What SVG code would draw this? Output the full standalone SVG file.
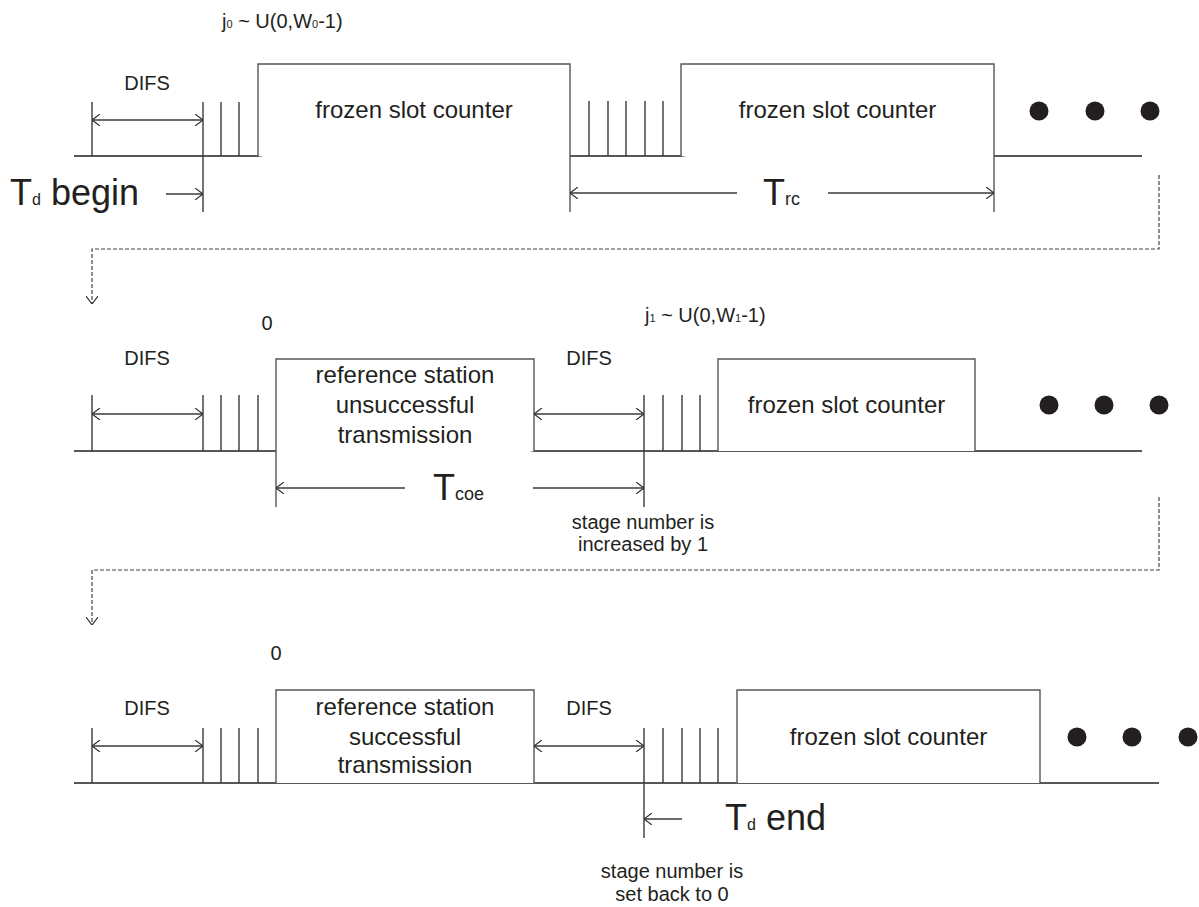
<svg xmlns="http://www.w3.org/2000/svg" width="1199" height="907" viewBox="0 0 1199 907">
<style>
text{font-family:"Liberation Sans",Arial,sans-serif;fill:#231f20}
.ln{stroke:#3a3a3a;stroke-width:1.4;fill:none}
.bl{stroke:#231f20;stroke-width:1.6;fill:none}
.box{stroke:#555;stroke-width:1.4;fill:#fff}
.dash{stroke:#444;stroke-width:1.2;fill:none;stroke-dasharray:4 2}
.s18{font-size:18px}
.s20{font-size:20px}
.s24{font-size:24px}
.s36{font-size:36px}
.sub{font-size:11px}
.dot{fill:#231f20}
</style>
<defs>
<marker id="ah" viewBox="0 0 8 12" refX="8" refY="6" markerWidth="8" markerHeight="12" markerUnits="userSpaceOnUse" orient="auto-start-reverse">
<path d="M0,0 L8,6 L0,12" fill="none" stroke="#333" stroke-width="1.2"/>
</marker>
</defs>

<g id="row1">
<line class="bl" x1="74" y1="156" x2="1142" y2="156"/>
<g id="r1-difs">
<line class="ln" x1="92" y1="102" x2="92" y2="156"/>
<line class="ln" x1="203" y1="102" x2="203" y2="212"/>
<text class="s20" x="147" y="90" text-anchor="middle">DIFS</text>
</g>
<g id="r1-slots1">
<line class="ln" x1="221" y1="102" x2="221" y2="156"/>
<line class="ln" x1="239" y1="102" x2="239" y2="156"/>
</g>
<g id="r1-box1">
<polyline class="box" points="258,156 258,64 570,64 570,212"/>
<text class="s24" x="414" y="118" text-anchor="middle">frozen slot counter</text>
</g>
<g id="r1-slots2">
<line class="ln" x1="589" y1="101" x2="589" y2="156"/>
<line class="ln" x1="608" y1="101" x2="608" y2="156"/>
<line class="ln" x1="626" y1="101" x2="626" y2="156"/>
<line class="ln" x1="645" y1="101" x2="645" y2="156"/>
<line class="ln" x1="663" y1="101" x2="663" y2="156"/>
</g>
<g id="r1-box2">
<polyline class="box" points="681,156 681,64 994,64 994,212"/>
<text class="s24" x="837.5" y="118" text-anchor="middle">frozen slot counter</text>
</g>
<g id="r1-dots">
<circle class="dot" cx="1039" cy="111" r="9.5"/>
<circle class="dot" cx="1095" cy="111" r="9.5"/>
<circle class="dot" cx="1150" cy="111" r="9.5"/>
</g>
<text id="r1-j0" class="s20" x="222" y="28">j<tspan class="sub">0</tspan> ~ U(0,W<tspan class="sub">0</tspan>-1)</text>
<text id="td-begin" class="s36" x="10" y="205">T<tspan font-size="16px">d</tspan> begin</text>
<text id="trc" class="s36" x="763" y="205">T<tspan font-size="18px">rc</tspan></text>
</g>

<g id="row2">
<line class="bl" x1="74" y1="451" x2="1142" y2="451"/>
<g id="r2-difs">
<line class="ln" x1="92" y1="395" x2="92" y2="451"/>
<line class="ln" x1="203" y1="395" x2="203" y2="451"/>
<text class="s20" x="147" y="365" text-anchor="middle">DIFS</text>
</g>
<g id="r2-slots1">
<line class="ln" x1="221" y1="395" x2="221" y2="451"/>
<line class="ln" x1="239" y1="395" x2="239" y2="451"/>
<line class="ln" x1="258" y1="395" x2="258" y2="451"/>
</g>
<text id="r2-zero" class="s20" x="267" y="330" text-anchor="middle">0</text>
<g id="r2-ref">
<polyline class="box" points="276,507 276,359 534,359 534,451"/>
<text class="s24" x="405" y="383" text-anchor="middle">reference station</text>
<text class="s24" x="405" y="413" text-anchor="middle">unsuccessful</text>
<text class="s24" x="405" y="443" text-anchor="middle">transmission</text>
</g>
<g id="r2-difs2">
<line class="ln" x1="644" y1="395" x2="644" y2="507"/>
<text class="s20" x="589" y="365" text-anchor="middle">DIFS</text>
</g>
<g id="r2-slots2">
<line class="ln" x1="663" y1="395" x2="663" y2="451"/>
<line class="ln" x1="682" y1="395" x2="682" y2="451"/>
<line class="ln" x1="700" y1="395" x2="700" y2="451"/>
</g>
<text id="r2-j1" class="s20" x="645" y="322">j<tspan class="sub">1</tspan> ~ U(0,W<tspan class="sub">1</tspan>-1)</text>
<g id="r2-box">
<polyline class="box" points="718,451 718,359 975,359 975,451"/>
<text class="s24" x="846.5" y="413" text-anchor="middle">frozen slot counter</text>
</g>
<g id="r2-dots">
<circle class="dot" cx="1049" cy="405" r="9.5"/>
<circle class="dot" cx="1104" cy="405" r="9.5"/>
<circle class="dot" cx="1159" cy="405" r="9.5"/>
</g>
<text id="tcoe" class="s36" x="433" y="500">T<tspan font-size="18px">coe</tspan></text>
<g id="r2-stage">
<text class="s20" x="643" y="529" text-anchor="middle">stage number is</text>
<text class="s20" x="643" y="551" text-anchor="middle">increased by 1</text>
</g>
</g>

<g id="row3">
<line class="bl" x1="74" y1="783" x2="1159" y2="783"/>
<g id="r3-difs">
<line class="ln" x1="92" y1="728" x2="92" y2="783"/>
<line class="ln" x1="203" y1="728" x2="203" y2="783"/>
<text class="s20" x="147" y="715" text-anchor="middle">DIFS</text>
</g>
<g id="r3-slots1">
<line class="ln" x1="221" y1="728" x2="221" y2="783"/>
<line class="ln" x1="239" y1="728" x2="239" y2="783"/>
<line class="ln" x1="258" y1="728" x2="258" y2="783"/>
</g>
<text id="r3-zero" class="s20" x="276" y="660" text-anchor="middle">0</text>
<g id="r3-ref">
<polyline class="box" points="276,783 276,690 534,690 534,783"/>
<text class="s24" x="405" y="715" text-anchor="middle">reference station</text>
<text class="s24" x="405" y="745" text-anchor="middle">successful</text>
<text class="s24" x="405" y="773" text-anchor="middle">transmission</text>
</g>
<g id="r3-difs2">
<line class="ln" x1="644" y1="728" x2="644" y2="838"/>
<text class="s20" x="589" y="715" text-anchor="middle">DIFS</text>
</g>
<g id="r3-slots2">
<line class="ln" x1="663" y1="728" x2="663" y2="783"/>
<line class="ln" x1="682" y1="728" x2="682" y2="783"/>
<line class="ln" x1="700" y1="728" x2="700" y2="783"/>
<line class="ln" x1="718" y1="728" x2="718" y2="783"/>
</g>
<g id="r3-box">
<polyline class="box" points="737,783 737,690 1040,690 1040,783"/>
<text class="s24" x="888.5" y="745" text-anchor="middle">frozen slot counter</text>
</g>
<g id="r3-dots">
<circle class="dot" cx="1077" cy="737" r="9.5"/>
<circle class="dot" cx="1132" cy="737" r="9.5"/>
<circle class="dot" cx="1188" cy="737" r="9.5"/>
</g>
<text id="td-end" class="s36" x="725" y="830">T<tspan font-size="16px">d</tspan> end</text>
<g id="r3-stage">
<text class="s20" x="672" y="878" text-anchor="middle">stage number is</text>
<text class="s20" x="672" y="901" text-anchor="middle">set back to 0</text>
</g>
</g>

<g id="connectors">
<line class="ln" x1="92" y1="120" x2="203" y2="120" marker-start="url(#ah)" marker-end="url(#ah)"/>
<line class="ln" x1="166" y1="194" x2="203" y2="194" marker-end="url(#ah)"/>
<line class="ln" x1="737" y1="193" x2="570" y2="193" marker-end="url(#ah)"/>
<line class="ln" x1="828" y1="193" x2="994" y2="193" marker-end="url(#ah)"/>
<path class="dash" d="M1159,175 V249 H92 V304" marker-end="url(#ah)"/>
<line class="ln" x1="92" y1="414" x2="203" y2="414" marker-start="url(#ah)" marker-end="url(#ah)"/>
<line class="ln" x1="534" y1="414" x2="644" y2="414" marker-start="url(#ah)" marker-end="url(#ah)"/>
<line class="ln" x1="405" y1="488" x2="276" y2="488" marker-end="url(#ah)"/>
<line class="ln" x1="533" y1="488" x2="644" y2="488" marker-end="url(#ah)"/>
<path class="dash" d="M1159,497 V570 H92 V625" marker-end="url(#ah)"/>
<line class="ln" x1="92" y1="746" x2="203" y2="746" marker-start="url(#ah)" marker-end="url(#ah)"/>
<line class="ln" x1="534" y1="746" x2="644" y2="746" marker-start="url(#ah)" marker-end="url(#ah)"/>
<line class="ln" x1="682" y1="819" x2="644" y2="819" marker-end="url(#ah)"/>
</g>
</svg>
